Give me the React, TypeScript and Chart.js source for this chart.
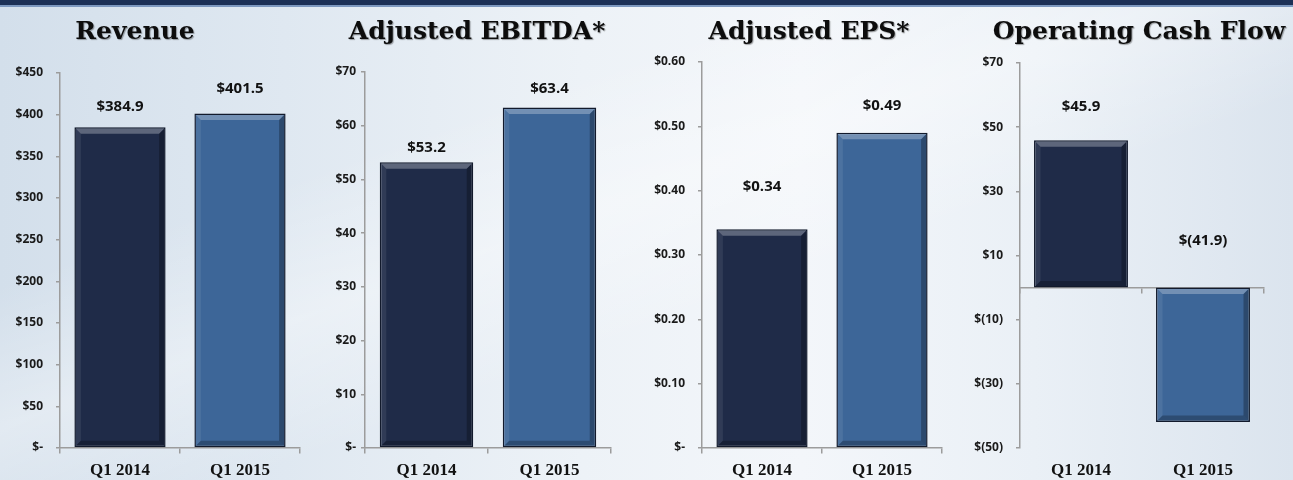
import React, { useEffect, useRef } from "react";
import { Chart, registerables } from "chart.js";

Chart.register(...registerables);

// ---------- data ----------
const categories = ["Q1 2014", "Q1 2015"];
const titles = ["Revenue", "Adjusted EBITDA*", "Adjusted EPS*", "Operating Cash Flow"];

const revenueValues = [384.9, 401.5];
const ebitdaValues = [53.2, 63.4];
const epsValues = [0.34, 0.49];
const cashFlowValues = [45.9, -41.9];

const revenueTicks = [0, 50, 100, 150, 200, 250, 300, 350, 400, 450];
const revenueTickLabels = ["$-", "$50", "$100", "$150", "$200", "$250", "$300", "$350", "$400", "$450"];
const ebitdaTicks = [0, 10, 20, 30, 40, 50, 60, 70];
const ebitdaTickLabels = ["$-", "$10", "$20", "$30", "$40", "$50", "$60", "$70"];
const epsTicks = [0, 0.1, 0.2, 0.3, 0.4, 0.5, 0.6];
const epsTickLabels = ["$-", "$0.10", "$0.20", "$0.30", "$0.40", "$0.50", "$0.60"];
const cashFlowTicks = [-50, -30, -10, 10, 30, 50, 70];
const cashFlowTickLabels = ["$(50)", "$(30)", "$(10)", "$10", "$30", "$50", "$70"];

// ---------- styles / layout ----------
const barColors = ["#1f2b48", "#3d6698"];
const barBorder = "#121a2c";
const axisColor = "#9c9c9c";
const tickFont = { family: "'Open Sans', 'Liberation Sans', sans-serif", size: 12, weight: "bold" as const };
const valueFont = "bold 15px 'Open Sans', 'Liberation Sans', sans-serif";
const titleFont = "bold 25px 'DejaVu Serif', 'Liberation Serif', serif";
const catFont = { family: "'Liberation Serif', 'Times New Roman', serif", size: 17, weight: "bold" as const };

type Panel = {
  title: string;
  values: number[];
  ticks: number[];
  tickLabels: string[];
  decimals: number;
  left: number;
  width: number;
  yWidth: number;
  padRight: number;
  padTop: number;
  titleX: number;
  tickPad: number;
  barPct: number;
  labelOffsets: number[];
};

const panels: Panel[] = [
  { title: titles[0], values: revenueValues, ticks: revenueTicks, tickLabels: revenueTickLabels, decimals: 1,
    left: 0, width: 320, yWidth: 60, padRight: 20, padTop: 73, titleX: 135, tickPad: 13, barPct: 0.76, labelOffsets: [21, 25] },
  { title: titles[1], values: ebitdaValues, ticks: ebitdaTicks, tickLabels: ebitdaTickLabels, decimals: 1,
    left: 320, width: 320, yWidth: 45, padRight: 29, padTop: 72, titleX: 157, tickPad: 5, barPct: 0.76, labelOffsets: [15, 19] },
  { title: titles[2], values: epsValues, ticks: epsTicks, tickLabels: epsTickLabels, decimals: 2,
    left: 640, width: 320, yWidth: 62, padRight: 18, padTop: 62, titleX: 169, tickPad: 13, barPct: 0.76, labelOffsets: [43, 27] },
  { title: titles[3], values: cashFlowValues, ticks: cashFlowTicks, tickLabels: cashFlowTickLabels, decimals: 1,
    left: 960, width: 333, yWidth: 60, padRight: 29, padTop: 63, titleX: 179, tickPad: 13, barPct: 0.77, labelOffsets: [34, 47] },
];

function fmt(v: number, d: number) {
  const s = Math.abs(v).toFixed(d);
  return v < 0 ? `$(${s})` : `$${s}`;
}

function ChartPanel({ p }: { p: Panel }) {
  const ref = useRef<HTMLCanvasElement>(null);
  useEffect(() => {
    if (!ref.current) return;

    const titlePlugin = {
      id: "panelTitle",
      afterDraw(chart: any) {
        const ctx = chart.ctx;
        ctx.save();
        ctx.font = titleFont;
        ctx.textAlign = "center";
        ctx.textBaseline = "alphabetic";
        ctx.shadowColor = "rgba(0,0,0,0.35)";
        ctx.shadowOffsetX = 1;
        ctx.shadowOffsetY = 1;
        ctx.shadowBlur = 1;
        ctx.fillStyle = "#0d0d0d";
        ctx.fillText(p.title, p.titleX, 39);
        ctx.restore();
      },
    };

    const bevelPlugin = {
      id: "bevel",
      afterDatasetsDraw(chart: any) {
        const ctx = chart.ctx;
        const meta = chart.getDatasetMeta(0);
        meta.data.forEach((bar: any) => {
          const l = bar.x - bar.width / 2 + 1.5;
          const r = bar.x + bar.width / 2 - 1.5;
          const t = Math.min(bar.y, bar.base) + 1.5;
          const b = Math.max(bar.y, bar.base) - 1.5;
          const d = 5;
          ctx.save();
          // top highlight
          ctx.beginPath();
          ctx.moveTo(l, t); ctx.lineTo(r, t); ctx.lineTo(r - d, t + d); ctx.lineTo(l + d, t + d); ctx.closePath();
          ctx.fillStyle = "rgba(255,255,255,0.28)";
          ctx.fill();
          // left
          ctx.beginPath();
          ctx.moveTo(l, t); ctx.lineTo(l + d, t + d); ctx.lineTo(l + d, b - d); ctx.lineTo(l, b); ctx.closePath();
          ctx.fillStyle = "rgba(255,255,255,0.08)";
          ctx.fill();
          // right
          ctx.beginPath();
          ctx.moveTo(r, t); ctx.lineTo(r, b); ctx.lineTo(r - d, b - d); ctx.lineTo(r - d, t + d); ctx.closePath();
          ctx.fillStyle = "rgba(0,0,0,0.28)";
          ctx.fill();
          // bottom
          ctx.beginPath();
          ctx.moveTo(l, b); ctx.lineTo(r, b); ctx.lineTo(r - d, b - d); ctx.lineTo(l + d, b - d); ctx.closePath();
          ctx.fillStyle = "rgba(0,0,0,0.25)";
          ctx.fill();
          ctx.restore();
        });
      },
    };

    const valueLabelPlugin = {
      id: "valueLabels",
      afterDatasetsDraw(chart: any) {
        const ctx = chart.ctx;
        const meta = chart.getDatasetMeta(0);
        ctx.save();
        ctx.font = valueFont;
        ctx.textAlign = "center";
        ctx.textBaseline = "middle";
        ctx.fillStyle = "#111111";
        meta.data.forEach((bar: any, i: number) => {
          const top = Math.min(bar.y, bar.base);
          ctx.fillText(fmt(p.values[i], p.decimals), bar.x, top - p.labelOffsets[i]);
        });
        ctx.restore();
      },
    };

    const chart = new Chart(ref.current, {
      type: "bar",
      data: {
        labels: categories,
        datasets: [
          {
            data: p.values,
            backgroundColor: barColors,
            borderColor: barBorder,
            borderWidth: 1.5,
            borderSkipped: false,
            categoryPercentage: 1,
            barPercentage: p.barPct,
          },
        ],
      },
      options: {
        animation: false,
        responsive: false,
        maintainAspectRatio: false,
        events: [],
        layout: { padding: { left: 0, right: p.padRight, top: p.padTop, bottom: 0 } },
        plugins: { legend: { display: false }, title: { display: false }, tooltip: { enabled: false } },
        scales: {
          x: {
            type: "category",
            position: { y: 0 } as any,
            offset: true,
            grid: { display: true, drawOnChartArea: false, drawTicks: true, tickLength: 5, color: axisColor, lineWidth: 1.5, offset: true },
            border: { display: true, color: axisColor, width: 1.5 },
            ticks: { display: false },
            afterFit: (s: any) => { s.height = 0; },
          },
          x2: {
            type: "category",
            labels: categories,
            position: "bottom",
            offset: true,
            grid: { display: false, drawTicks: false },
            border: { display: false },
            ticks: { font: catFont, color: "#111111", padding: 12 },
            afterFit: (s: any) => { s.height = 32; },
          },
          y: {
            type: "linear",
            min: p.ticks[0],
            max: p.ticks[p.ticks.length - 1],
            afterBuildTicks: (s: any) => { s.ticks = p.ticks.map((v) => ({ value: v })); },
            grid: { display: true, drawOnChartArea: false, drawTicks: true, tickLength: 4, color: axisColor, lineWidth: 1.5 },
            border: { display: true, color: axisColor, width: 1.5 },
            ticks: {
              font: tickFont,
              color: "#1a1a1a",
              padding: p.tickPad,
              autoSkip: false,
              callback: (_v: any, i: number) => p.tickLabels[i],
            },
            afterFit: (s: any) => { s.width = p.yWidth; },
          },
        },
      },
      plugins: [bevelPlugin, valueLabelPlugin, titlePlugin],
    });
    return () => chart.destroy();
  }, [p]);

  return (
    <div style={{ position: "absolute", left: p.left, top: 0, width: p.width, height: 480 }}>
      <canvas ref={ref} width={p.width} height={480} style={{ width: p.width, height: 480, display: "block" }} />
    </div>
  );
}

export default function App() {
  return (
    <div
      style={{
        position: "fixed",
        left: 0,
        top: 0,
        width: 1293,
        height: 480,
        overflow: "hidden",
        background:
          "linear-gradient(160deg, rgba(255,255,255,0) 30%, rgba(255,255,255,0.35) 45%, rgba(255,255,255,0) 60%), linear-gradient(90deg, #d3dfeb 0%, #dfe8f1 22%, #edf2f7 45%, #f3f6fa 62%, #eaf0f6 80%, #dbe4ee 100%)",
      }}
    >
      <div style={{ position: "absolute", left: 0, top: 0, width: 1293, height: 5, background: "#1c3056" }} />
      <div style={{ position: "absolute", left: 0, top: 5, width: 1293, height: 2, background: "#7d98bf" }} />
      {panels.map((p, i) => (
        <ChartPanel key={i} p={p} />
      ))}
    </div>
  );
}
